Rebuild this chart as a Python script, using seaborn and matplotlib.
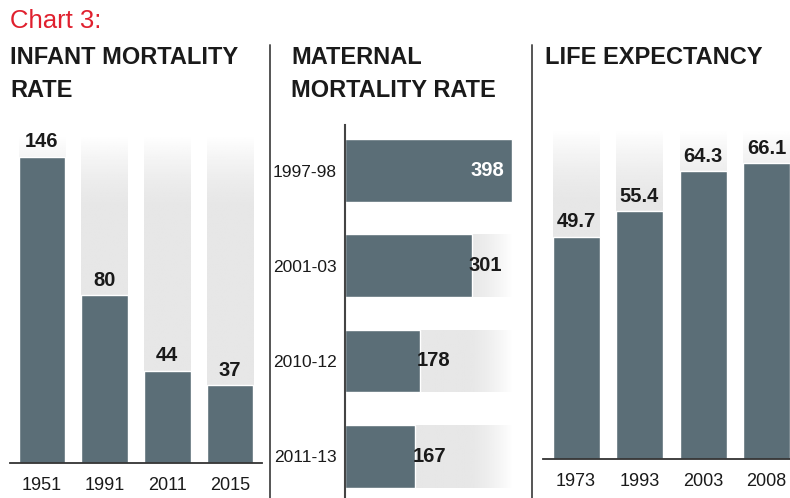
import numpy as np
import pandas as pd
import matplotlib.pyplot as plt
from matplotlib.lines import Line2D
import seaborn as sns

sns.set_theme(style="white")
plt.rcParams["font.family"] = ["Liberation Sans", "DejaVu Sans"]

# data
infant_years = ["1951", "1991", "2011", "2015"]
infant_rate = [146, 80, 44, 37]

maternal_periods = ["1997-98", "2001-03", "2010-12", "2011-13"]
maternal_rate = [398, 301, 178, 167]

life_years = ["1973", "1993", "2003", "2008"]
life_exp = [49.7, 55.4, 64.3, 66.1]

BAR = "#5b6e77"
SHADE = 0.905   # grey level of the track behind each bar
TEXT = "#1a1a1a"

W, H = 790, 498
fig = plt.figure(figsize=(W / 100, H / 100), dpi=100)


def rect(l, t, r, b):
    return [l / W, 1 - b / H, (r - l) / W, (b - t) / H]


def fade_tracks(ax, patches, horizontal, fade=0.25):
    # grey track that fades to white at its far end, clipped to each bar shape
    t = np.linspace(0, 1, 256)
    g = SHADE + (1 - SHADE) * np.clip((t - (1 - fade)) / fade, 0, 1) ** 1.5
    for p in patches:
        x0, y0, w, h = p.get_x(), p.get_y(), p.get_width(), p.get_height()
        if horizontal:
            img, ext = g[None, :], (x0, x0 + w, y0 + h, y0)
        else:
            img, ext = g[:, None], (x0, x0 + w, y0, y0 + h)
        im = ax.imshow(img, cmap="gray", vmin=0, vmax=1, aspect="auto",
                       extent=ext, origin="lower", zorder=0.5,
                       interpolation="bilinear")
        im.set_clip_path(p)
        p.set_visible(False)
    ax.set_aspect("auto")


def column_panel(ax, cats, vals, top, fmt):
    df = pd.DataFrame({"cat": cats, "val": vals})
    bg = df.assign(val=top)
    sns.barplot(data=bg, x="cat", y="val", color="white", saturation=1,
                width=0.74, ax=ax, zorder=0.4)
    tracks = list(ax.patches)
    sns.barplot(data=df, x="cat", y="val", color=BAR, saturation=1,
                width=0.74, ax=ax, zorder=2)
    fade_tracks(ax, tracks, horizontal=False, fade=0.22)
    for i, v in enumerate(vals):
        ax.annotate(fmt.format(v), (i, v), xytext=(0, 4),
                    textcoords="offset points", ha="center", va="bottom",
                    fontsize=14.5, fontweight="bold", color=TEXT, zorder=3)
    ax.set_ylim(0, top)
    ax.set_xlim(-0.51, len(cats) - 0.49)
    ax.set_xlabel("")
    ax.set_ylabel("")
    ax.set_yticks([])
    for s in ["left", "right", "top"]:
        ax.spines[s].set_visible(False)
    ax.spines["bottom"].set_color("#333333")
    ax.spines["bottom"].set_linewidth(1.3)
    ax.tick_params(axis="x", length=0, pad=10, labelsize=13, labelcolor=TEXT)
    ax.patch.set_alpha(0)


# --- infant mortality ---
ax1 = fig.add_axes(rect(10, 135, 262, 463))
column_panel(ax1, infant_years, infant_rate, max(infant_rate) * 1.072, "{}")

# --- life expectancy ---
ax3 = fig.add_axes(rect(543, 130, 790, 459))
column_panel(ax3, life_years, life_exp, max(life_exp) * 1.113, "{:.1f}")
ax3.set_xlim(-0.52, 3.37)

# --- maternal mortality (horizontal) ---
ax2 = fig.add_axes(rect(345, 125, 525, 498))
mm = pd.DataFrame({"period": maternal_periods, "val": maternal_rate})
sns.barplot(data=mm.assign(val=max(maternal_rate)), y="period", x="val",
            orient="h", color="white", saturation=1, width=0.66, ax=ax2,
            zorder=0.4)
tracks = list(ax2.patches)
sns.barplot(data=mm, y="period", x="val", orient="h", color=BAR,
            saturation=1, width=0.66, ax=ax2, zorder=2)
fade_tracks(ax2, tracks, horizontal=True, fade=0.27)
for i, v in enumerate(maternal_rate):
    if v == max(maternal_rate):
        ax2.annotate(str(v), (v, i), xytext=(-6, 0), textcoords="offset points",
                     ha="right", va="center", fontsize=14.5, fontweight="bold",
                     color="white", zorder=3)
    else:
        ax2.annotate(str(v), (v, i), xytext=(-2, 0), textcoords="offset points",
                     ha="left", va="center", fontsize=14.5, fontweight="bold",
                     color=TEXT, zorder=3)
ax2.set_xlim(0, 428)
ax2.set_ylim(3.44, -0.48)
ax2.set_xlabel("")
ax2.set_ylabel("")
ax2.set_xticks([])
for s in ["bottom", "right", "top"]:
    ax2.spines[s].set_visible(False)
ax2.spines["left"].set_color("#444444")
ax2.spines["left"].set_linewidth(1.5)
ax2.tick_params(axis="y", length=0, pad=6, labelsize=12.5, labelcolor=TEXT)
ax2.patch.set_alpha(0)

# panel dividers
for xp in (270, 532):
    fig.add_artist(Line2D([xp / W, xp / W], [1 - 45 / H, 0], color="#555555",
                          linewidth=1.4))

# titles
fig.text(10 / W, 1 - 9 / H, "Chart 3:", color="#e0202e", fontsize=18.5,
         va="top", ha="left")
fig.text(10 / W, 1 - 46 / H, "INFANT MORTALITY\nRATE", color=TEXT,
         fontsize=17, fontweight="bold", va="top", ha="left", linespacing=1.55)
fig.text(291 / W, 1 - 46 / H, "MATERNAL\nMORTALITY RATE", color=TEXT,
         fontsize=17, fontweight="bold", va="top", ha="left", linespacing=1.55)
fig.text(545 / W, 1 - 46 / H, "LIFE EXPECTANCY", color=TEXT,
         fontsize=17, fontweight="bold", va="top", ha="left")

fig.savefig("out.png", dpi=100, facecolor="white")
